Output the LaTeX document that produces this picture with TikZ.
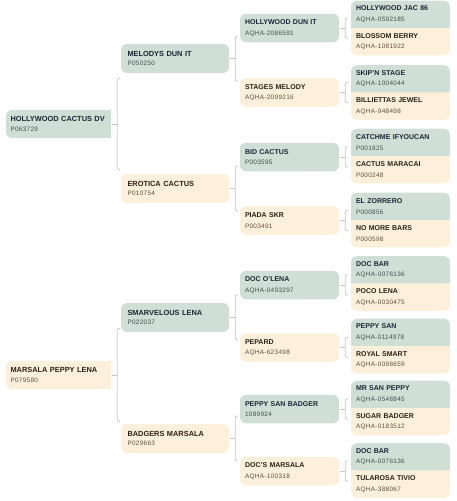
\documentclass[tikz,border=0pt]{standalone}
\usepackage{fontspec}
\setmainfont{Liberation Sans}
\newfontfamily\regfont[LetterSpace=5]{Liberation Sans}
\usetikzlibrary{backgrounds}

\definecolor{sage}{HTML}{CFDFD6}
\definecolor{cream}{HTML}{FDF0DB}
\definecolor{sireink}{HTML}{1A2636}
\definecolor{damink}{HTML}{2B2015}
\definecolor{sirereg}{HTML}{3F4F4D}
\definecolor{damreg}{HTML}{5E4E3C}
\definecolor{linkgray}{HTML}{C6C6C6}

\tikzset{
  box/.style={rectangle, rounded corners=6pt, inner xsep=5pt, inner ysep=0pt, align=left},
  sire/.style={box, fill=sage, text=sireink, execute at begin node=\colorlet{regink}{sirereg}},
  dam/.style={box, fill=cream, text=damink, execute at begin node=\colorlet{regink}{damreg}},
  gzero/.style={inner xsep=4.5pt, text width=96pt, minimum height=28pt, font=\fontsize{7.4}{9.5}\selectfont},
  gone/.style={inner xsep=6.5pt, text width=95pt, minimum height=29pt, font=\fontsize{7.4}{9.5}\selectfont},
  gtwo/.style={text width=89pt, minimum height=28.5pt, font=\fontsize{7}{10.5}\selectfont},
  gthree/.style={text width=89pt, minimum height=27.3pt, font=\fontsize{7}{10.5}\selectfont},
  brk/.style={draw=linkgray, line width=0.8pt},
}

\newcommand\horse[2]{\textbf{#1}\\{\regfont\fontsize{6.4}{9}\selectfont\color{regink}#2}}
% tick from the parent, then the bracket
\newcommand\pedlink[2]{%
  \draw[brk] ([xshift=1pt]#1.east) -- ++(5,0) coordinate (#1k);
  \draw[brk, rounded corners=2pt] (#1k) ++(3,-#2) -- ++(-3,0) -- ++(0,2*#2) -- ++(3,0);
}
% fill the seam between the two halves of a pair
\newcommand\seam[2]{%
  \begin{scope}[on background layer]
    \fill[sage] (#1.south west) rectangle ([yshift=8pt]#1.south east);
    \fill[cream] (#2.north west) rectangle ([yshift=-8pt]#2.north east);
  \end{scope}
}

\begin{document}
\begin{tikzpicture}[x=1pt,y=-1pt]
  \useasboundingbox (0,0) rectangle (456,501);

  % generation 0
  \node[sire,gzero] (hcd) at (58.5,124) {\horse{HOLLYWOOD CACTUS DV}{P063729}};
  \node[dam,gzero] (mpl) at (58.5,375) {\horse{MARSALA PEPPY LENA}{P079580}};
  \begin{scope}[on background layer]
    \fill[sage] ([xshift=-8pt]hcd.north east) rectangle (hcd.south east);
    \fill[cream] ([xshift=-8pt]mpl.north east) rectangle (mpl.south east);
  \end{scope}

  % generation 1
  \node[sire,gone] (mdi) at (175,58.5) {\horse{MELODYS DUN IT}{P050250}};
  \node[dam,gone] (ec) at (175,188.5) {\horse{EROTICA CACTUS}{P010754}};
  \node[sire,gone] (sl) at (175,317.5) {\horse{SMARVELOUS LENA}{P022037}};
  \node[dam,gone] (bm) at (175,438.5) {\horse{BADGERS MARSALA}{P029663}};

  % generation 2
  \node[sire,gtwo] (hdi) at (289.5,28) {\horse{HOLLYWOOD DUN IT}{AQHA-2086591}};
  \node[dam,gtwo] (sm) at (289.5,92.5) {\horse{STAGES MELODY}{AQHA-2099216}};
  \node[sire,gtwo] (bc) at (289.5,157) {\horse{BID CACTUS}{P003595}};
  \node[dam,gtwo] (ps) at (289.5,220.5) {\horse{PIADA SKR}{P003491}};
  \node[sire,gtwo] (dol) at (289.5,285) {\horse{DOC O'LENA}{AQHA-0493297}};
  \node[dam,gtwo] (pep) at (289.5,347.5) {\horse{PEPARD}{AQHA-623498}};
  \node[sire,gtwo] (psb) at (289.5,409) {\horse{PEPPY SAN BADGER}{1089924}};
  \node[dam,gtwo] (dm) at (289.5,471) {\horse{DOC'S MARSALA}{AQHA-100318}};

  % generation 3
  \node[sire,gthree] (hj) at (400.5,14.35) {\horse{HOLLYWOOD JAC 86}{AQHA-0592185}};
  \node[dam,gthree] (bb) at (400.5,41.65) {\horse{BLOSSOM BERRY}{AQHA-1081922}};
  \node[sire,gthree] (ss) at (400.5,78.85) {\horse{SKIP'N STAGE}{AQHA-1004044}};
  \node[dam,gthree] (bj) at (400.5,106.15) {\horse{BILLIETTAS JEWEL}{AQHA-948498}};
  \node[sire,gthree] (ci) at (400.5,142.35) {\horse{CATCHME IFYOUCAN}{P001825}};
  \node[dam,gthree] (cm) at (400.5,169.65) {\horse{CACTUS MARACAI}{P000248}};
  \node[sire,gthree] (ez) at (400.5,206.35) {\horse{EL ZORRERO}{P000856}};
  \node[dam,gthree] (nmb) at (400.5,233.65) {\horse{NO MORE BARS}{P000598}};
  \node[sire,gthree] (db) at (400.5,269.85) {\horse{DOC BAR}{AQHA-0076136}};
  \node[dam,gthree] (pl) at (400.5,297.15) {\horse{POCO LENA}{AQHA-0030475}};
  \node[sire,gthree] (psn) at (400.5,332.35) {\horse{PEPPY SAN}{AQHA-0114978}};
  \node[dam,gthree] (rs) at (400.5,359.65) {\horse{ROYAL SMART}{AQHA-0098659}};
  \node[sire,gthree] (msp) at (400.5,394.35) {\horse{MR SAN PEPPY}{AQHA-0548845}};
  \node[dam,gthree] (sb) at (400.5,421.65) {\horse{SUGAR BADGER}{AQHA-0183512}};
  \node[sire,gthree] (dbb) at (400.5,456.85) {\horse{DOC BAR}{AQHA-0076136}};
  \node[dam,gthree] (tt) at (400.5,484.15) {\horse{TULAROSA TIVIO}{AQHA-388067}};
  \seam{hj}{bb} \seam{ss}{bj} \seam{ci}{cm} \seam{ez}{nmb}
  \seam{db}{pl} \seam{psn}{rs} \seam{msp}{sb} \seam{dbb}{tt}

  % brackets
  \pedlink{hcd}{45.5} \pedlink{mpl}{46.5}
  \pedlink{mdi}{22.5} \pedlink{ec}{22.5} \pedlink{sl}{22.5} \pedlink{bm}{22.5}
  \pedlink{hdi}{10} \pedlink{sm}{10} \pedlink{bc}{10} \pedlink{ps}{10}
  \pedlink{dol}{10} \pedlink{pep}{10} \pedlink{psb}{10} \pedlink{dm}{10}
\end{tikzpicture}
\end{document}
